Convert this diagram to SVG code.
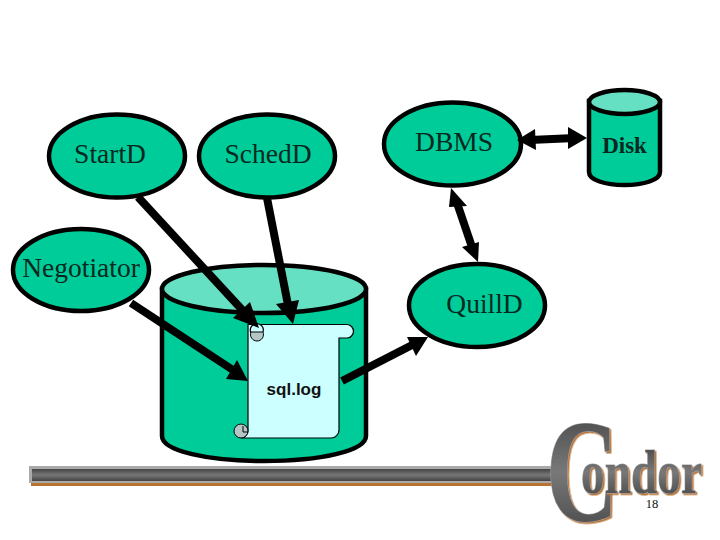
<svg xmlns="http://www.w3.org/2000/svg" width="720" height="540" viewBox="0 0 720 540">
<style>
.n{fill:#00cc99;stroke:#000;stroke-width:4.500}
.top{fill:#66e0c2;stroke:#000;stroke-width:4.500}
.t{font-family:"Liberation Serif",serif;font-size:27.500px;fill:#08281f;text-anchor:middle}
.c{stroke:#000;stroke-width:8;fill:none}
.h{fill:#000;stroke:none}
.s{fill:#ccffff;stroke:#000;stroke-width:1.200}
.k{fill:#b5c6c6;stroke:#000;stroke-width:1}
.l{font-family:"Liberation Serif",serif;font-weight:bold;fill:url(#g);stroke:#a8a8a8;stroke-width:1.200;paint-order:stroke;filter:url(#sh)}
</style>
<defs>
<linearGradient id="g" x1="0" y1="0" x2="0" y2="1"><stop offset="0" stop-color="#3c3c3c"/><stop offset=".5" stop-color="#787878"/><stop offset="1" stop-color="#3c3c3c"/></linearGradient>
<linearGradient id="b" x1="0" y1="0" x2="0" y2="1"><stop offset="0" stop-color="#444"/><stop offset=".5" stop-color="#777"/><stop offset="1" stop-color="#444"/></linearGradient>
<filter id="sh" x="-10%" y="-10%" width="120%" height="120%"><feDropShadow dx="1.500" dy="1.500" stdDeviation="0" flood-color="#b87333"/></filter>
</defs>
<rect width="720" height="540" fill="#fff"/>
<g id="bar">
<rect x="31" y="483" width="520" height="3" fill="#b87333"/>
<rect x="29" y="466" width="522" height="17" fill="#aaa"/>
<rect x="32" y="469" width="519" height="12" fill="url(#b)"/>
</g>
<g id="logo">
<text class="l" x="546" y="521" font-size="146" textLength="72" lengthAdjust="spacingAndGlyphs">C</text>
<text class="l" x="581" y="493" font-size="62" textLength="121" lengthAdjust="spacingAndGlyphs">ondor</text>
</g>
<text x="652" y="508" font-family="Liberation Serif, serif" font-size="12.500" fill="#111" text-anchor="middle">18</text>
<g id="log-store">
<path class="n" d="M162 289V436C162 451 208 461 264 461S366 451 366 436V289Z"/>
<ellipse class="top" cx="264" cy="289" rx="102" ry="24"/>
</g>
<g id="startd"><ellipse class="n" cx="117" cy="156" rx="68" ry="41.500"/><text class="t" x="110" y="163">StartD</text></g>
<g id="schedd"><ellipse class="n" cx="267" cy="156" rx="68" ry="41.500"/><text class="t" x="268" y="163">SchedD</text></g>
<g id="dbms"><ellipse class="n" cx="452.500" cy="144" rx="68.500" ry="41.500"/><text class="t" x="454" y="151">DBMS</text></g>
<g id="negotiator"><ellipse class="n" cx="81" cy="270" rx="68" ry="41"/><text class="t" x="81" y="277">Negotiator</text></g>
<g id="quilld"><ellipse class="n" cx="477" cy="305.500" rx="68" ry="41.500"/><text class="t" x="484.500" y="313">QuillD</text></g>
<g id="disk">
<path class="n" d="M589 101V172C589 180 605 185 624.500 185S660 180 660 172V101Z"/>
<ellipse class="top" cx="624.500" cy="102" rx="35.500" ry="12"/>
<text x="624.500" y="153" font-family="Liberation Serif, serif" font-weight="bold" font-size="23" fill="#08281f" text-anchor="middle">Disk</text>
</g>
<g id="sql-log">
<path class="s" d="M248 324.500H347.500A6.800 6.800 0 0 1 347.500 338H339V430A8 8 0 0 1 331 438H241A7.500 7.500 0 0 0 248 430Z"/>
<path class="s" d="M251 333A6.500 6.500 0 1 1 263 332"/>
<path class="k" d="M263 332A6.500 6.500 0 1 1 251 332Z"/>
<circle class="k" cx="241" cy="431" r="7"/>
<path fill="none" stroke="#000" stroke-width="1" d="M243 426V432H248"/>
<text x="294" y="395" font-family="Liberation Sans, sans-serif" font-weight="bold" font-size="17" fill="#111" text-anchor="middle">sql.log</text>
</g>
<g id="connectors">
<path class="c" d="M138 197L246 314"/><polygon class="h" points="259,328 233,318 250,302"/>
<path class="c" d="M267 198L289 310"/><polygon class="h" points="293,324 276,304 299,300"/>
<path class="c" d="M131 303L236 372"/><polygon class="h" points="248,381 226,379 237,360"/>
<path class="c" d="M342 381L416 343"/><polygon class="h" points="428,337 416,356 407,337"/>
<path class="c" d="M530 140L575 138"/><polygon class="h" points="517,140 535,129 536,150"/><polygon class="h" points="587,138 568,149 568,127"/>
<path class="c" d="M456 200L473 250"/><polygon class="h" points="451,188 467,206 449,207"/><polygon class="h" points="478,262 462,247 479,242"/>
</g>
</svg>
